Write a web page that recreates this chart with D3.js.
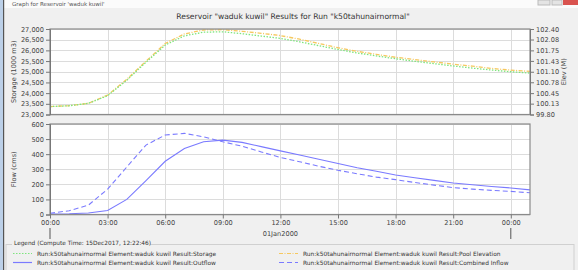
<!DOCTYPE html>
<html>
<head>
<meta charset="utf-8">
<script src="https://cdn.jsdelivr.net/npm/d3@7"></script>
<style>
  body { margin: 0; background: #f0f0f0; }
  svg { display: block; font-family: "DejaVu Sans", sans-serif; }
</style>
</head>
<body>
<svg id="chart" width="578" height="270"></svg>
<script>
// hours since 00:00 01Jan2000
const hours = [0, 1, 2, 3, 4, 5, 6, 7, 8, 9, 10, 11, 12, 13, 14, 15, 16, 17, 18, 19, 20, 21, 22, 23, 24, 25]
const storage = [23370, 23410, 23520, 23880, 24600, 25450, 26250, 26680, 26850, 26870, 26780, 26670, 26560,
  26400, 26220, 26040, 25880, 25740, 25610, 25490, 25380, 25270, 25170, 25080, 25000, 24940]
const poolElev = [100.04, 100.07, 100.14, 100.39, 100.87, 101.42, 101.96, 102.25, 102.37, 102.38, 102.33, 102.27, 102.20,
  102.09, 101.96, 101.83, 101.72, 101.63, 101.54, 101.47, 101.40, 101.33, 101.27, 101.20, 101.15, 101.11]
const outflow = [3, 5, 10, 27, 100, 225, 353, 438, 482, 493, 478, 450, 422,
  394, 366, 338, 310, 287, 262, 244, 226, 209, 197, 186, 176, 163]
const inflow = [8, 25, 62, 168, 315, 460, 527, 538, 515, 482, 453, 415, 378,
  350, 320, 293, 270, 248, 231, 212, 195, 178, 168, 160, 153, 144]

const timeTicks = [0, 3, 6, 9, 12, 15, 18, 21, 24]
const timeLabels = ['00:00', '03:00', '06:00', '09:00', '12:00', '15:00', '18:00', '21:00', '00:00']
const storageTicks = [23000, 23500, 24000, 24500, 25000, 25500, 26000, 26500, 27000]
const elevTicks = [99.80, 100.13, 100.45, 100.78, 101.10, 101.43, 101.75, 102.08, 102.40]
const flowTicks = [0, 100, 200, 300, 400, 500, 600]

const svg = d3.select('#chart')
const left = 50, right = 530
const top1 = 29, bot1 = 114.5
const top2 = 124, bot2 = 214.5

// window frame bits
svg.append('rect').attr('x', 0).attr('y', 0).attr('width', 578).attr('height', 8).attr('fill', '#fbfbfb')
svg.append('text').attr('x', 12).attr('y', 6).attr('font-size', 5.5).attr('fill', '#555')
  .text("Graph for Reservoir 'waduk kuwil'")
svg.append('rect').attr('x', 0).attr('y', 0).attr('width', 3).attr('height', 270).attr('fill', '#bcd0e8')
svg.append('rect').attr('x', 3).attr('y', 0).attr('width', 1.2).attr('height', 270).attr('fill', '#555')
svg.append('rect').attr('x', 538).attr('y', 0).attr('width', 12).attr('height', 5).attr('fill', '#e4e4e4').attr('stroke', '#bbb')
svg.append('rect').attr('x', 552).attr('y', 0).attr('width', 10).attr('height', 5).attr('fill', '#e4e4e4').attr('stroke', '#bbb')
svg.append('rect').attr('x', 563).attr('y', 0).attr('width', 15).attr('height', 5).attr('fill', '#d9534f')

svg.append('text')
  .attr('x', 293).attr('y', 19)
  .attr('text-anchor', 'middle').attr('font-size', 7.6).attr('fill', '#333')
  .text('Reservoir "waduk kuwil" Results for Run "k50tahunairnormal"')

const x = d3.scaleLinear().domain([0, 25]).range([left, right])
const yS = d3.scaleLinear().domain([23000, 27000]).range([bot1, top1])
const yE = d3.scaleLinear().domain([99.8, 102.4]).range([bot1, top1])
const yF = d3.scaleLinear().domain([0, 600]).range([bot2, top2])

function panel (y0, y1, yTicks, yScale) {
  svg.append('rect').attr('x', left).attr('y', y0).attr('width', right - left).attr('height', y1 - y0).attr('fill', '#fff')
  const g = svg.append('g').attr('stroke', '#dcdcdc').attr('stroke-width', 1)
  g.selectAll('.vg').data(timeTicks).enter().append('line')
    .attr('x1', d => Math.round(x(d)) + 0.5).attr('x2', d => Math.round(x(d)) + 0.5)
    .attr('y1', y0).attr('y2', y1)
  g.selectAll('.hg').data(yTicks).enter().append('line')
    .attr('x1', left).attr('x2', right)
    .attr('y1', d => Math.round(yScale(d)) + 0.5).attr('y2', d => Math.round(yScale(d)) + 0.5)
}

function frame (y0, y1) {
  svg.append('rect').attr('x', left).attr('y', y0).attr('width', right - left).attr('height', y1 - y0)
    .attr('fill', 'none').attr('stroke', '#8a8a8a').attr('stroke-width', 1.2)
}

function styleAxis (sel) {
  sel.select('.domain').attr('stroke', '#777')
  sel.selectAll('.tick line').attr('stroke', '#777')
  sel.selectAll('.tick text').attr('fill', '#444').attr('font-size', 6.6).attr('font-family', '"DejaVu Sans", sans-serif')
}

panel(top1, bot1, storageTicks, yS)
panel(top2, bot2, flowTicks, yF)

// top panel lines
const lineS = d3.line().x((d, i) => x(hours[i])).y(d => yS(d))
const lineE = d3.line().x((d, i) => x(hours[i])).y(d => yE(d))
svg.append('path').datum(poolElev).attr('d', lineE)
  .attr('fill', 'none').attr('stroke', '#f6c85f').attr('stroke-width', 1.3).attr('stroke-dasharray', '4,1.5,1,1.5')
svg.append('path').datum(storage).attr('d', lineS)
  .attr('fill', 'none').attr('stroke', '#7ee57e').attr('stroke-width', 1.3).attr('stroke-dasharray', '1.5,1.5')

// bottom panel lines
const lineF = d3.line().x((d, i) => x(hours[i])).y(d => yF(d))
svg.append('path').datum(inflow).attr('d', lineF)
  .attr('fill', 'none').attr('stroke', '#7a7aff').attr('stroke-width', 1.1).attr('stroke-dasharray', '5,3')
svg.append('path').datum(outflow).attr('d', lineF)
  .attr('fill', 'none').attr('stroke', '#7a7aff').attr('stroke-width', 1.1)

frame(top1, bot1)
frame(top2, bot2)

// axes
svg.append('g').attr('transform', `translate(${left},0)`)
  .call(d3.axisLeft(yS).tickValues(storageTicks).tickFormat(d3.format(',')).tickSize(4).tickPadding(2))
  .call(styleAxis)
svg.append('g').attr('transform', `translate(${right},0)`)
  .call(d3.axisRight(yE).tickValues(elevTicks).tickFormat(d3.format('.2f')).tickSize(4).tickPadding(2))
  .call(styleAxis)
svg.append('g').attr('transform', `translate(${left},0)`)
  .call(d3.axisLeft(yF).tickValues(flowTicks).tickSize(4).tickPadding(2))
  .call(styleAxis)
const xAxis = svg.append('g').attr('transform', `translate(0,${bot2})`)
  .call(d3.axisBottom(x).tickValues(timeTicks).tickFormat((d, i) => timeLabels[i]).tickSize(4).tickPadding(2))
  .call(styleAxis)
xAxis.select('.domain').remove()

// day markers under the time labels
svg.selectAll('.day').data([0, 24]).enter().append('line')
  .attr('x1', d => x(d)).attr('x2', d => x(d))
  .attr('y1', 228).attr('y2', 239).attr('stroke', '#555')
svg.append('text').attr('x', x(12)).attr('y', 236)
  .attr('text-anchor', 'middle').attr('font-size', 6.6).attr('fill', '#444').text('01Jan2000')

// axis titles
svg.append('text').attr('transform', `translate(16,${(top1 + bot1) / 2}) rotate(-90)`)
  .attr('text-anchor', 'middle').attr('font-size', 6.6).attr('fill', '#444').text('Storage (1000 m3)')
svg.append('text').attr('transform', `translate(566,${(top1 + bot1) / 2}) rotate(-90)`)
  .attr('text-anchor', 'middle').attr('font-size', 6.6).attr('fill', '#444').text('Elev (M)')
svg.append('text').attr('transform', `translate(16,${(top2 + bot2) / 2}) rotate(-90)`)
  .attr('text-anchor', 'middle').attr('font-size', 6.6).attr('fill', '#444').text('Flow (cms)')

// legend
const run = 'Run:k50tahunairnormal Element:waduk kuwil Result:'
const legendItems = [
  { name: 'Storage', color: '#7ee57e', dash: '1.5,1.5', col: 0, row: 0 },
  { name: 'Pool Elevation', color: '#f6c85f', dash: '4,1.5,1,1.5', col: 1, row: 0 },
  { name: 'Outflow', color: '#7a7aff', dash: null, col: 0, row: 1 },
  { name: 'Combined Inflow', color: '#7a7aff', dash: '5,3', col: 1, row: 1 }
]
svg.append('rect').attr('x', 6).attr('y', 244.5).attr('width', 568).attr('height', 30)
  .attr('fill', 'none').attr('stroke', '#d0d0d0')
svg.append('rect').attr('x', 12).attr('y', 240).attr('width', 138).attr('height', 8).attr('fill', '#f0f0f0')
svg.append('text').attr('x', 14).attr('y', 245).attr('font-size', 5.8).attr('fill', '#333')
  .text('Legend (Compute Time: 15Dec2017, 12:22:46)')
const lg = svg.selectAll('.lg').data(legendItems).enter().append('g')
  .attr('transform', d => `translate(${d.col ? 279 : 13},${d.row ? 262.5 : 253.5})`)
lg.append('line').attr('x1', 0).attr('x2', 19).attr('y1', 0).attr('y2', 0)
  .attr('stroke', d => d.color).attr('stroke-width', 1.2).attr('stroke-dasharray', d => d.dash)
lg.append('text').attr('x', 24).attr('y', 2).attr('font-size', 5.9).attr('fill', '#333')
  .text(d => run + d.name)
</script>
</body>
</html>
